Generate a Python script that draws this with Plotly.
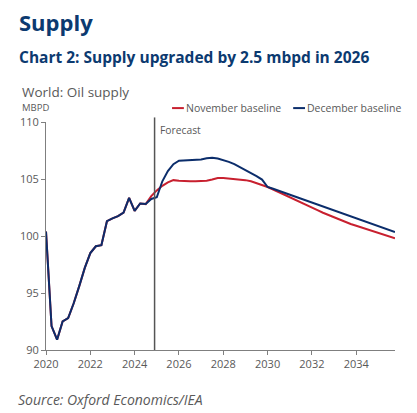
import plotly.graph_objects as go

# quarterly points, 2020Q1 .. 2035Q4
quarters = [2020 + i * 0.25 for i in range(64)]

# shared history 2020Q1 .. 2024Q3
history = [
    100.4, 92.1, 90.9, 92.5,
    92.8, 94.1, 95.6, 97.2,
    98.5, 99.1, 99.2, 101.3,
    101.55, 101.75, 102.05, 103.35,
    102.2, 102.85, 102.8,
]

# 2024Q4 .. 2035Q4
november_tail = [
    103.5,
    104.0, 104.4, 104.7, 104.9,
    104.85, 104.8, 104.8, 104.8,
    104.8, 104.85, 104.95, 105.08,
    105.08, 105.05, 105.0, 104.95,
    104.9, 104.8, 104.65, 104.5,
    104.3, 104.08, 103.86, 103.64,
    103.43, 103.22, 102.98, 102.74,
    102.5, 102.27, 102.04, 101.83,
    101.62, 101.4, 101.22, 101.05,
    100.9, 100.75, 100.6, 100.45,
    100.3, 100.15, 100.0, 99.8,
]
december_tail = [
    103.25,
    103.4, 104.8, 105.7, 106.3,
    106.6, 106.62, 106.62, 106.65,
    106.72, 106.82, 106.87, 106.8,
    106.68, 106.5, 106.3, 106.05,
    105.8, 105.5, 105.25, 104.95,
    104.3, 104.15, 103.98, 103.8,
    103.63, 103.45, 103.27, 103.1,
    102.92, 102.74, 102.57, 102.4,
    102.23, 102.06, 101.88, 101.72,
    101.55, 101.38, 101.2, 101.03,
    100.86, 100.69, 100.52, 100.35,
]
november = history + november_tail
december = history + december_tail

x_ticks = list(range(2020, 2036, 2))
y_ticks = [90, 95, 100, 105, 110]
forecast_start = 2024.9

RED = "#C8202F"
NAVY = "#0B2D6B"
TITLE = "#0C3A70"
GREY = "#595959"
FONT = "Open Sans"

fig = go.Figure()
fig.add_trace(go.Scatter(x=quarters, y=november, mode="lines", name="November baseline",
                         line=dict(color=RED, width=2)))
fig.add_trace(go.Scatter(x=quarters, y=december, mode="lines", name="December baseline",
                         line=dict(color=NAVY, width=2)))

axis_common = dict(showline=True, linecolor="#7f7f7f", linewidth=1, ticks="outside",
                   tickcolor="#7f7f7f", ticklen=4, showgrid=False, zeroline=False,
                   tickfont=dict(family=FONT, size=11, color=GREY))

# page body has an 8px margin, so the figure is 8px smaller than the window
fig.update_layout(
    width=409, height=405,
    margin=dict(l=33, r=22, t=114, b=63),
    paper_bgcolor="white", plot_bgcolor="white",
    showlegend=False,
    font=dict(family=FONT, color=GREY),
    xaxis=dict(range=[2020, 2035.75], tickvals=x_ticks, **axis_common),
    yaxis=dict(range=[90, 110], tickvals=y_ticks, **axis_common),
)

# forecast divider
fig.add_shape(type="line", xref="x", yref="paper", x0=forecast_start, x1=forecast_start,
              y0=0, y1=1.02, line=dict(color="#555555", width=1.5))
fig.add_annotation(x=forecast_start + 0.15, y=0.965, xref="x", yref="paper", text="Forecast",
                   showarrow=False, xanchor="left", yanchor="middle",
                   font=dict(family=FONT, size=10.3, color=GREY))

# hand-drawn legend with short line samples
plot_w = 354.4
legend_y = 1.061
for x0, label, color in [(169, "November baseline", RED), (292, "December baseline", NAVY)]:
    px0 = (x0 - 41) / plot_w
    px1 = (x0 + 12 - 41) / plot_w
    fig.add_shape(type="line", xref="paper", yref="paper", x0=px0, x1=px1,
                  y0=legend_y, y1=legend_y, line=dict(color=color, width=2))
    fig.add_annotation(x=px1, y=legend_y, xref="paper", yref="paper", text=label,
                       showarrow=False, xanchor="left", yanchor="middle",
                       font=dict(family=FONT, size=10.5, color=GREY))

texts = [
    ("<b>Supply</b>", 1.4386, 22, TITLE, 12),
    ("<b>Chart 2: Supply upgraded by 2.5 mbpd in 2026</b>", 1.285, 15.5, TITLE, 12),
    ("World: Oil supply", 1.1316, 13.5, GREY, 15),
    ("MBPD", 1.064, 9.5, GREY, 15),
    ("<i>Source: Oxford Economics/IEA</i>", -0.219, 14, GREY, 11),
]
for text, y, size, color, left in texts:
    fig.add_annotation(x=(left - 41) / plot_w, y=y, xref="paper", yref="paper", text=text,
                       showarrow=False, xanchor="left", yanchor="middle",
                       font=dict(family=FONT, size=size, color=color))

fig.write_html("out.html")
